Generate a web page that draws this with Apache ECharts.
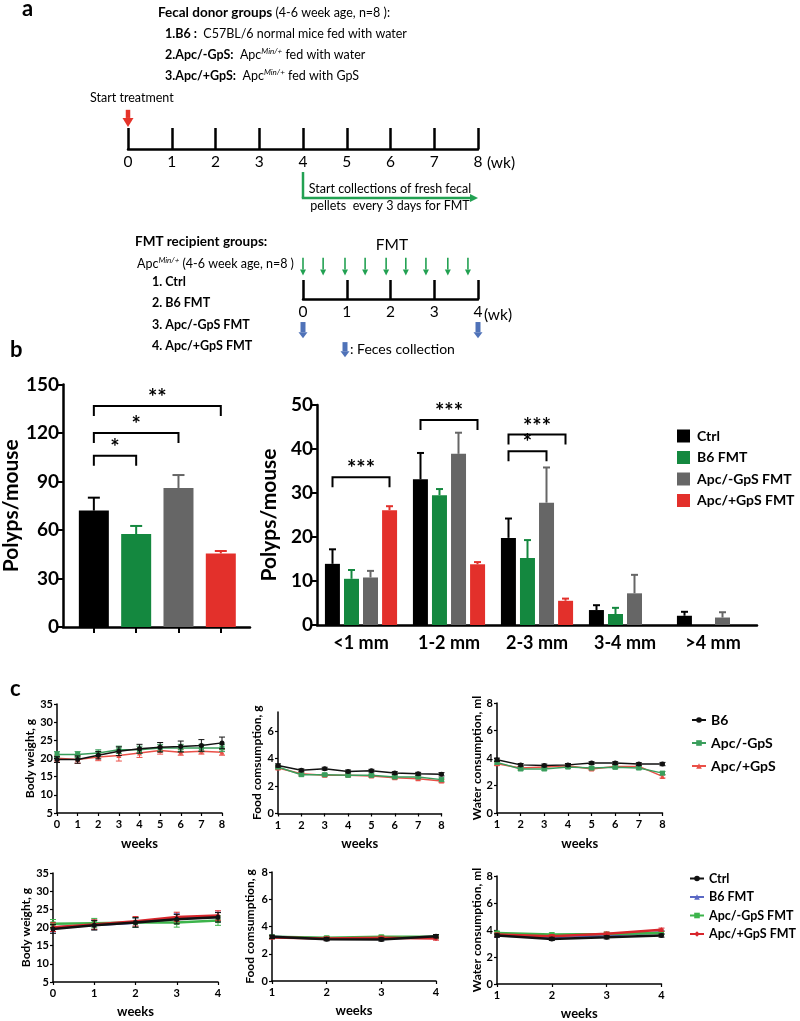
<!DOCTYPE html>
<html><head><meta charset="utf-8">
<script src="https://cdn.jsdelivr.net/npm/echarts@6/dist/echarts.min.js"></script>
<style>html,body{margin:0;padding:0;background:#fff}#c{width:800px;height:1021px}</style>
</head><body><div id="c"></div>
<script>
// ================= DATA =================
// panel a timelines (weeks)
const donorWeeks = [0,1,2,3,4,5,6,7,8];
const fmtWeeks = [0,1,2,3,4];
const treatStartWeek = 0;
const collectStartWeek = 4;
const collectEndWeek = 8;
const fmtDoseWeeks = [0,0.46,0.96,1.42,1.9,2.35,2.81,3.31,3.77];
const fecesWeeks = [0,4];

// panel b, total polyps
const totalGroups = ['Ctrl','B6 FMT','Apc/-GpS FMT','Apc/+GpS FMT'];
const totalPolyps = [72, 57.5, 86, 45.5];
const totalErr = [8, 5, 8, 1.5];
const totalBrackets = [[0,3,136.7,'**'],[0,2,120,'*'],[0,1,106,'*']];

// panel b, polyps by size
const sizeCats = ['<1 mm','1-2 mm','2-3 mm','3-4 mm','>4 mm'];
const ctrlSize = [13.9, 33.1, 19.8, 3.4, 2.1];
const ctrlSizeErr = [3.3, 6.0, 4.4, 1.1, 0.9];
const b6Size = [10.5, 29.5, 15.2, 2.5, 0];
const b6SizeErr = [2.0, 1.4, 4.1, 1.4, 0];
const apcMinusSize = [10.8, 38.9, 27.8, 7.2, 1.7];
const apcMinusSizeErr = [1.5, 4.8, 8.0, 4.2, 1.2];
const apcPlusSize = [26.1, 13.8, 5.5, 0, 0];
const apcPlusSizeErr = [0.9, 0.5, 0.5, 0, 0];
// [category, from group, to group, y, label]
const sizeBrackets = [[0,0,3,33.6,'***'],[1,0,3,46.6,'***'],[2,0,3,43.3,'***'],[2,0,2,39.5,'*']];

// panel c, donor groups (weeks 0-8 / 1-8)
const donorNames = ['B6','Apc/-GpS','Apc/+GpS'];
const donorFoodWeeks = [1,2,3,4,5,6,7,8];
const bwB6 = [19.7,19.7,20.9,22.0,22.7,23.1,23.3,23.6,24.3];
const bwB6Err = [0.8,1.0,1.0,1.2,1.2,1.3,1.5,1.6,1.6];
const bwMinus = [21.1,21.1,21.5,22.4,22.4,22.9,22.9,22.9,22.9];
const bwMinusErr = [0.8,0.8,0.9,1.0,1.0,1.0,1.0,1.0,1.0];
const bwPlus = [20.1,19.7,20.4,20.8,21.5,22.2,21.7,22.0,21.7];
const bwPlusErr = [0.8,1.0,1.0,1.5,1.2,1.0,0.8,0.8,0.8];
const foodB6 = [3.5,3.15,3.27,3.07,3.12,2.95,2.9,2.86];
const foodMinus = [3.39,2.83,2.83,2.78,2.78,2.66,2.66,2.47];
const foodPlus = [3.32,2.9,2.78,2.78,2.74,2.6,2.54,2.37];
const waterB6 = [3.87,3.5,3.46,3.5,3.63,3.63,3.56,3.56];
const waterMinus = [3.68,3.2,3.2,3.34,3.27,3.32,3.27,2.9];
const waterPlus = [3.58,3.27,3.34,3.44,3.2,3.39,3.39,2.66];
const donorSmallErr = [0.12,0.1,0.1,0.1,0.1,0.1,0.1,0.12];

// panel c, FMT recipients (weeks 0-4 / 1-4)
const recipNames = ['Ctrl','B6 FMT','Apc/-GpS FMT','Apc/+GpS FMT'];
const recipFoodWeeks = [1,2,3,4];
const rbwCtrl = [19.6,20.6,21.4,22.3,22.8];
const rbwB6 = [20.0,20.7,21.3,22.5,22.9];
const rbwMinus = [21.0,21.2,21.4,21.4,21.9];
const rbwPlus = [20.1,20.8,21.7,22.9,23.3];
const rbwErr = [1.2,1.3,1.3,1.3,1.3];
const rfoodCtrl = [3.24,3.07,3.05,3.29];
const rfoodB6 = [3.24,3.12,3.12,3.24];
const rfoodMinus = [3.24,3.17,3.24,3.24];
const rfoodPlus = [3.2,3.12,3.17,3.12];
const rwaterCtrl = [3.59,3.34,3.46,3.59];
const rwaterB6 = [3.6,3.49,3.59,3.83];
const rwaterMinus = [3.78,3.66,3.7,3.78];
const rwaterPlus = [3.66,3.54,3.73,4.02];
const recipSmallErr = [0.12,0.12,0.12,0.12];

// ================= STYLE =================
const F = 'Lato';
const barColors = ['#000000','#14883f','#666666','#e3302b'];
const donorColors = ['#111111','#3a9e5c','#ea5048'];
const donorSymbols = ['circle','rect','triangle'];
const recipColors = ['#111111','#5a68c4','#3cb44b','#d8262c'];
const recipSymbols = ['circle','triangle','rect','diamond'];

const chart = echarts.init(document.getElementById('c'), null, {renderer:'canvas', width:800, height:1021});

function arrowEls(p1, p2, color, shaft, headW, headL) {
  const dx = p2[0]-p1[0], dy = p2[1]-p1[1];
  const L = Math.hypot(dx, dy) || 1;
  const ux = dx/L, uy = dy/L, nx = -uy, ny = ux;
  const bx = p2[0]-ux*headL, by = p2[1]-uy*headL;
  return [
    {type:'line', shape:{x1:p1[0], y1:p1[1], x2:bx, y2:by}, style:{stroke:color, lineWidth:shaft}},
    {type:'polygon', shape:{points:[[p2[0],p2[1]],[bx+nx*headW/2,by+ny*headW/2],[bx-nx*headW/2,by-ny*headW/2]]}, style:{fill:color}}
  ];
}
function arrowSeries(ai, data, color, shaft, headW, headL) {
  return {type:'custom', xAxisIndex:ai, yAxisIndex:ai, clip:false, silent:true, z:5,
    encode:{x:[0,2], y:[1,3]}, data:data,
    renderItem:function(params, api){
      const p1 = api.coord([api.value(0), api.value(1)]);
      const p2 = api.coord([api.value(2), api.value(3)]);
      return {type:'group', children:arrowEls(p1,p2,color,shaft,headW,headL)};
    }};
}

// ---------- text helpers ----------
const rich = {
  b:{fontFamily:F, fontWeight:'bold', fontSize:13.5, fill:'#000', lineHeight:16},
  bs:{fontFamily:F, fontWeight:'bold', fontSize:12.5, fill:'#000', lineHeight:16},
  n:{fontFamily:F, fontSize:12.5, fill:'#000', lineHeight:16},
  s:{fontFamily:F, fontSize:8, fontStyle:'italic', fill:'#000', lineHeight:10, verticalAlign:'top'}
};
function rtxt(x, y, text) {
  return {type:'text', x:x, y:y, silent:true, style:{text:text, rich:rich, verticalAlign:'middle', align:'left', font:'12.5px '+F}};
}
function txt(x, y, text, font, align) {
  return {type:'text', x:x, y:y, silent:true, style:{text:text, font:font+' '+F, fill:'#000', verticalAlign:'middle', align:align||'left'}};
}

// ---------- grids ----------
const grids = [
  {left:128, top:100, width:350, height:49},   // 0 timeline donors
  {left:303, top:250, width:175, height:49},   // 1 timeline FMT
  {left:62, top:384.5, width:188, height:242.5}, // 2 total polyps
  {left:317, top:405, width:440, height:220},  // 3 polyps by size
  {left:57, top:704, width:165, height:109},   // 4
  {left:278, top:712, width:163.5, height:101.5}, // 5
  {left:497, top:703, width:165.5, height:110},// 6
  {left:53, top:873, width:165, height:109},   // 7
  {left:272, top:872, width:164, height:109},  // 8
  {left:497, top:876, width:164.5, height:109} // 9
];

const axLine = {onZero:false, lineStyle:{color:'#000', width:1.5}};
const bigAx = {onZero:false, lineStyle:{color:'#000', width:2.5}};

function tlX(gi, max) {
  return {gridIndex:gi, type:'value', min:0, max:max, interval:1,
    axisLine:{onZero:false, lineStyle:{color:'#000', width:2.5}},
    axisTick:{inside:true, length:gi===0?21:19, lineStyle:{color:'#000', width:2.5}},
    axisLabel:{fontFamily:F, fontSize:15.5, color:'#000', margin:5},
    splitLine:{show:false}};
}
function hidY(gi) { return {gridIndex:gi, type:'value', min:0, max:1, show:false, splitLine:{show:false}}; }

function cX(gi, min, max) {
  return {gridIndex:gi, type:'value', min:min, max:max, interval:1,
    name:'weeks', nameLocation:'middle', nameGap:gi<7?24:23,
    nameTextStyle:{fontFamily:F, fontWeight:'bold', fontSize:13, color:'#000'},
    axisLine:axLine, axisTick:{length:3, lineStyle:{color:'#000', width:1.2}},
    axisLabel:{fontFamily:F, fontWeight:'bold', fontSize:11, color:'#000', margin:6},
    splitLine:{show:false}};
}
function cY(gi, min, max, interval, name, gap, custom) {
  const o = {gridIndex:gi, type:'value', min:min, max:max, interval:interval,
    name:name, nameLocation:'middle', nameGap:gap,
    nameTextStyle:{fontFamily:F, fontWeight:'bold', fontSize:12, color:'#000'},
    axisLine:Object.assign({show:true}, axLine), axisTick:{show:true, length:3, lineStyle:{color:'#000', width:1.2}},
    axisLabel:{fontFamily:F, fontWeight:'bold', fontSize:11, color:'#000', margin:4},
    splitLine:{show:false}};
  if (custom) { o.axisLabel.customValues = custom; o.axisTick.customValues = custom; }
  return o;
}

const xAxes = [
  tlX(0, 8), tlX(1, 4),
  {gridIndex:2, type:'value', min:-0.73, max:3.69,
    axisLine:bigAx, axisTick:{length:6, lineStyle:{color:'#000', width:2}, customValues:[0,1,2,3]},
    axisLabel:{show:false}, splitLine:{show:false}},
  {gridIndex:3, type:'category', data:sizeCats,
    axisLine:bigAx, axisTick:{alignWithLabel:true, length:6, lineStyle:{color:'#000', width:2}},
    axisLabel:{fontFamily:F, fontWeight:'bold', fontSize:18, color:'#000', margin:9}},
  cX(4,0,8), cX(5,1,8), cX(6,1,8), cX(7,0,4), cX(8,1,4), cX(9,1,4)
];
const bigY = function(gi, max, interval, gap){
  return {gridIndex:gi, type:'value', min:0, max:max, interval:interval,
    name:'Polyps/mouse', nameLocation:'middle', nameGap:gap,
    nameTextStyle:{fontFamily:F, fontWeight:'bold', fontSize:21, color:'#000'},
    axisLine:Object.assign({show:true}, bigAx), axisTick:{show:true, length:6, lineStyle:{color:'#000', width:2}},
    axisLabel:{fontFamily:F, fontWeight:'bold', fontSize:19, color:'#000', margin:4},
    splitLine:{show:false}};
};
const yAxes = [
  hidY(0), hidY(1),
  bigY(2, 150, 30, 38), bigY(3, 50, 10, 29),
  cY(4, 5, 35, 5, 'Body weight, g', 20),
  cY(5, 0, 7.4, 2, 'Food comsumption, g', 15, [0,2,4,6]),
  cY(6, 0, 8, 2, 'Water consumption, ml', 14),
  cY(7, 5, 35, 5, 'Body weight, g', 20),
  cY(8, 0, 8, 2, 'Food comsumption, g', 16),
  cY(9, 0, 8, 2, 'Water consumption, ml', 14)
];

const series = [];

// ---------- panel a arrows (y in units of the 49px timeline band above the axis) ----------
series.push(arrowSeries(0, [[treatStartWeek, 0.8, treatStartWeek, 0.45]], '#e5332a', 4.5, 11, 9));
series.push({type:'custom', xAxisIndex:0, yAxisIndex:0, clip:false, silent:true, z:5,
  encode:{x:[0,1], y:2}, data:[[collectStartWeek, collectEndWeek, -1]],
  renderItem:function(params, api){
    const top = api.coord([api.value(0), -0.47]);
    const corner = api.coord([api.value(0), api.value(2)]);
    const end = api.coord([api.value(1), api.value(2)]);
    return {type:'group', children:[
      {type:'line', shape:{x1:top[0], y1:top[1], x2:corner[0], y2:corner[1]}, style:{stroke:'#22a152', lineWidth:2.5}}
    ].concat(arrowEls([corner[0]-1.2, corner[1]], end, '#22a152', 2.5, 8, 8))};
  }});
series.push(arrowSeries(1, fmtDoseWeeks.map(w => [w, 0.84, w, 0.48]), '#22a152', 1.6, 6, 6));
series.push(arrowSeries(1, fecesWeeks.map(w => [w, -0.47, w, -0.8]), '#4f72b8', 5, 9, 6));
series.push(arrowSeries(1, [[0.96, -0.88, 0.96, -1.19]], '#4f72b8', 5, 9, 6));

// ---------- panel b left ----------
series.push({type:'bar', xAxisIndex:2, yAxisIndex:2, barWidth:30, silent:true,
  data: totalPolyps.map((v,i) => ({value:[i, v], itemStyle:{color:barColors[i]}}))});
series.push({type:'custom', xAxisIndex:2, yAxisIndex:2, silent:true, clip:false, z:3,
  encode:{x:0, y:1}, data: totalPolyps.map((v,i) => [i, v, v+totalErr[i]]),
  renderItem:function(params, api){
    const c = barColors[params.dataIndex];
    const p0 = api.coord([api.value(0), api.value(1)]);
    const p1 = api.coord([api.value(0), api.value(2)]);
    return {type:'group', children:[
      {type:'line', shape:{x1:p0[0], y1:p0[1], x2:p1[0], y2:p1[1]}, style:{stroke:c, lineWidth:2}},
      {type:'line', shape:{x1:p1[0]-6, y1:p1[1], x2:p1[0]+6, y2:p1[1]}, style:{stroke:c, lineWidth:2}}
    ]};
  }});
series.push({type:'custom', xAxisIndex:2, yAxisIndex:2, silent:true, clip:false, z:3,
  encode:{x:[0,1], y:2}, data: totalBrackets.map(b => [b[0], b[1], b[2]]),
  renderItem:function(params, api){
    const lab = totalBrackets[params.dataIndex][3];
    const p1 = api.coord([api.value(0), api.value(2)]);
    const p2 = api.coord([api.value(1), api.value(2)]);
    return {type:'group', children:[
      {type:'polyline', shape:{points:[[p1[0],p1[1]+10],[p1[0],p1[1]],[p2[0],p2[1]],[p2[0],p2[1]+10]]}, style:{stroke:'#000', lineWidth:2, fill:null}},
      {type:'text', style:{text:lab, x:(p1[0]+p2[0])/2, y:p1[1]+3, align:'center', verticalAlign:'bottom', font:'bold 22px '+F, fill:'#000'}}
    ]};
  }});

// ---------- panel b right ----------
const sizeVals = [ctrlSize, b6Size, apcMinusSize, apcPlusSize];
const sizeErrs = [ctrlSizeErr, b6SizeErr, apcMinusSizeErr, apcPlusSizeErr];
const barStep = 19;
sizeVals.forEach((arr, s) => {
  series.push({type:'bar', name:totalGroups[s], xAxisIndex:3, yAxisIndex:3, barWidth:15, barGap:'27%',
    silent:true, itemStyle:{color:barColors[s]}, data:arr});
});
const errData = [];
sizeVals.forEach((arr, s) => arr.forEach((v, i) => { if (sizeErrs[s][i] > 0) errData.push([i, s, v, v + sizeErrs[s][i]]); }));
series.push({type:'custom', xAxisIndex:3, yAxisIndex:3, silent:true, clip:false, z:3,
  encode:{x:0, y:3}, data:errData,
  renderItem:function(params, api){
    const s = api.value(1);
    const off = (s - 1.5) * barStep;
    const c = barColors[s];
    const p0 = api.coord([api.value(0), api.value(2)]);
    const p1 = api.coord([api.value(0), api.value(3)]);
    const x = p0[0] + off;
    return {type:'group', children:[
      {type:'line', shape:{x1:x, y1:p0[1], x2:x, y2:p1[1]}, style:{stroke:c, lineWidth:2}},
      {type:'line', shape:{x1:x-3.5, y1:p1[1], x2:x+3.5, y2:p1[1]}, style:{stroke:c, lineWidth:2}}
    ]};
  }});
series.push({type:'custom', xAxisIndex:3, yAxisIndex:3, silent:true, clip:false, z:3,
  encode:{x:0, y:3}, data: sizeBrackets.map(b => [b[0], b[1], b[2], b[3]]),
  renderItem:function(params, api){
    const lab = sizeBrackets[params.dataIndex][4];
    const c = api.coord([api.value(0), api.value(3)]);
    const x1 = c[0] + (api.value(1) - 1.5) * barStep;
    const x2 = c[0] + (api.value(2) - 1.5) * barStep;
    const y = c[1];
    return {type:'group', children:[
      {type:'polyline', shape:{points:[[x1,y+10],[x1,y],[x2,y],[x2,y+10]]}, style:{stroke:'#000', lineWidth:2, fill:null}},
      {type:'text', style:{text:lab, x:(x1+x2)/2, y:y+3, align:'center', verticalAlign:'bottom', font:'bold 22px '+F, fill:'#000'}}
    ]};
  }});

// ---------- panel c ----------
function lineWithErr(gi, name, xs, ys, errs, color, symbol, lw, z) {
  series.push({type:'custom', xAxisIndex:gi, yAxisIndex:gi, silent:true, z:z,
    encode:{x:0, y:[1,2]}, data: xs.map((x,i) => [x, ys[i]-errs[i], ys[i]+errs[i]]),
    renderItem:function(params, api){
      const a = api.coord([api.value(0), api.value(1)]);
      const b = api.coord([api.value(0), api.value(2)]);
      return {type:'group', children:[
        {type:'line', shape:{x1:a[0], y1:a[1], x2:b[0], y2:b[1]}, style:{stroke:color, lineWidth:1}},
        {type:'line', shape:{x1:a[0]-3, y1:a[1], x2:a[0]+3, y2:a[1]}, style:{stroke:color, lineWidth:1}},
        {type:'line', shape:{x1:b[0]-3, y1:b[1], x2:b[0]+3, y2:b[1]}, style:{stroke:color, lineWidth:1}}
      ]};
    }});
  series.push({type:'line', name:name, xAxisIndex:gi, yAxisIndex:gi, silent:true, z:z,
    symbol:symbol, symbolSize:5, showSymbol:true,
    lineStyle:{color:color, width:lw}, itemStyle:{color:color},
    data: xs.map((x,i) => [x, ys[i]])});
}
const dSmall = donorSmallErr;
// row 1: draw red, green, then black on top
lineWithErr(4, donorNames[2], donorWeeks, bwPlus, bwPlusErr, donorColors[2], donorSymbols[2], 1.5, 2);
lineWithErr(4, donorNames[1], donorWeeks, bwMinus, bwMinusErr, donorColors[1], donorSymbols[1], 1.5, 3);
lineWithErr(4, donorNames[0], donorWeeks, bwB6, bwB6Err, donorColors[0], donorSymbols[0], 1.5, 4);
lineWithErr(5, donorNames[2], donorFoodWeeks, foodPlus, dSmall, donorColors[2], donorSymbols[2], 1.5, 2);
lineWithErr(5, donorNames[1], donorFoodWeeks, foodMinus, dSmall, donorColors[1], donorSymbols[1], 1.5, 3);
lineWithErr(5, donorNames[0], donorFoodWeeks, foodB6, dSmall, donorColors[0], donorSymbols[0], 1.5, 4);
lineWithErr(6, donorNames[2], donorFoodWeeks, waterPlus, dSmall, donorColors[2], donorSymbols[2], 1.5, 2);
lineWithErr(6, donorNames[1], donorFoodWeeks, waterMinus, dSmall, donorColors[1], donorSymbols[1], 1.5, 3);
lineWithErr(6, donorNames[0], donorFoodWeeks, waterB6, dSmall, donorColors[0], donorSymbols[0], 1.5, 4);
// row 2 (names suffixed to keep them apart from the bar legend)
const R2 = '#2';
const rbw = [rbwCtrl, rbwB6, rbwMinus, rbwPlus];
const rfood = [rfoodCtrl, rfoodB6, rfoodMinus, rfoodPlus];
const rwater = [rwaterCtrl, rwaterB6, rwaterMinus, rwaterPlus];
[1,2,3,0].forEach((k, j) => {
  lineWithErr(7, recipNames[k]+R2, fmtWeeks, rbw[k], rbwErr, recipColors[k], recipSymbols[k], 2.5, 2+j);
  lineWithErr(8, recipNames[k]+R2, recipFoodWeeks, rfood[k], recipSmallErr, recipColors[k], recipSymbols[k], 2.5, 2+j);
  lineWithErr(9, recipNames[k]+R2, recipFoodWeeks, rwater[k], recipSmallErr, recipColors[k], recipSymbols[k], 2.5, 2+j);
});

const legends = [
  {left:672, top:424, orient:'vertical', itemWidth:13, itemHeight:13, itemGap:7.5, selectedMode:false,
    data: totalGroups.map(n => ({name:n, icon:'rect'})),
    textStyle:{fontFamily:F, fontWeight:'bold', fontSize:14, color:'#000', padding:[0,0,0,2]}},
  {left:686, top:708, orient:'vertical', itemWidth:14, itemHeight:7, itemGap:9, selectedMode:false,
    data: donorNames,
    textStyle:{fontFamily:F, fontWeight:'bold', fontSize:14, color:'#000'}},
  {left:684, top:867, orient:'vertical', itemWidth:14, itemHeight:7, itemGap:5.5, selectedMode:false,
    data: recipNames.map(n => n+R2), formatter: n => n.replace(R2, ''),
    textStyle:{fontFamily:F, fontWeight:'bold', fontSize:12.5, color:'#000'}}
];

const graphic = [
  txt(22, 9, 'a', 'bold 22px'),
  rtxt(158, 13, '{b|Fecal donor groups}{n| (4-6 week age, n=8 ):}'),
  rtxt(165, 34, '{bs|1.B6 :}{n|  C57BL/6 normal mice fed with water}'),
  rtxt(165, 55, '{bs|2.Apc/-GpS:}{n|  Apc}{s|Min/+}{n| fed with water}'),
  rtxt(165, 76, '{bs|3.Apc/+GpS:}{n|  Apc}{s|Min/+}{n| fed with GpS}'),
  txt(90, 98, 'Start treatment', '12.5px'),
  txt(487, 163, '(wk)', '15.5px'),
  txt(390, 189, 'Start collections of fresh fecal', '12.5px', 'center'),
  txt(390, 206, 'pellets  every 3 days for FMT', '12.5px', 'center'),
  rtxt(135, 242, '{b|FMT recipient groups:}'),
  rtxt(137, 264, '{n|Apc}{s|Min/+}{n| (4-6 week age, n=8 )}'),
  txt(152, 282, '1. Ctrl', 'bold 12.5px'),
  txt(152, 303, '2. B6 FMT', 'bold 12.5px'),
  txt(152, 325, '3. Apc/-GpS FMT', 'bold 12.5px'),
  txt(152, 346, '4. Apc/+GpS FMT', 'bold 12.5px'),
  txt(392, 245, 'FMT', '15.5px', 'center'),
  txt(484, 315, '(wk)', '15.5px'),
  txt(350, 349, ': Feces collection', '14px'),
  txt(10, 350, 'b', 'bold 22px'),
  txt(10, 689, 'c', 'bold 22px')
];

chart.setOption({
  animation:false,
  backgroundColor:'#fff',
  textStyle:{fontFamily:F},
  grid:grids, xAxis:xAxes, yAxis:yAxes, legend:legends, graphic:graphic, series:series
});
</script></body></html>
